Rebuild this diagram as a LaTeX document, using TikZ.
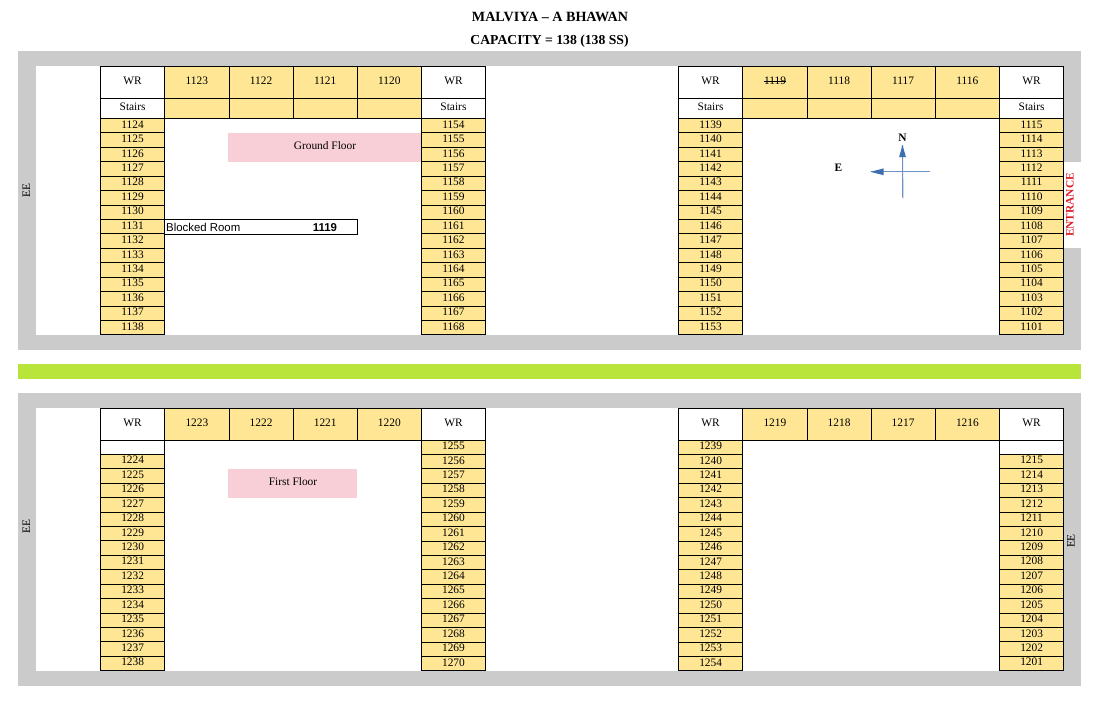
\documentclass[tikz,border=0pt]{standalone}
\usepackage{fontspec}
\usetikzlibrary{calc}
\setmainfont{Liberation Serif}
\newfontfamily\armfont{Liberation Sans}
\definecolor{roomyellow}{HTML}{FFE694}
\definecolor{framegray}{HTML}{CBCBCB}
\definecolor{limebar}{HTML}{B9E53B}
\definecolor{floorpink}{HTML}{F8CFD6}
\definecolor{compassblue}{HTML}{3F6FB0}
\definecolor{compassline}{HTML}{6D94C4}
\definecolor{entrancered}{HTML}{DD1F2A}
\tikzset{
  x=1pt,y=-1pt,
  cellbase/.style={draw=black,line width=1pt,inner sep=0pt,outer sep=0pt,anchor=north west,
    font=\fontsize{11.4}{11.4}\selectfont,text height=7pt,text depth=2.1pt,align=center},
  yellowroom/.style={cellbase,fill=roomyellow},
  whiteroom/.style={cellbase,fill=white},
  rowcell/.style={yellowroom,minimum width=64.3pt,minimum height=14.43pt},
  floorlabel/.style={fill=floorpink,inner sep=0pt,outer sep=0pt,anchor=north west,
    font=\fontsize{11.4}{11.4}\selectfont,minimum height=29pt},
  plainlabel/.style={inner sep=0pt,font=\fontsize{11.4}{11.4}\selectfont},
  titlelabel/.style={inner sep=0pt,font=\fontsize{13.8}{13.8}\selectfont\bfseries},
  compass/.style={compassline,line width=1.1pt},
  compasstip/.style={fill=compassblue,draw=none}
}
\begin{document}
\begin{tikzpicture}
\useasboundingbox (0,0) rectangle (1096,716);
\fill[white] (0,0) rectangle (1096,716);
\node[titlelabel,font=\fontsize{14.1}{14.1}\selectfont\bfseries] (title1) at (550,17) {MALVIYA – A BHAWAN};
\node[titlelabel,font=\fontsize{13.7}{13.7}\selectfont\bfseries] (title2) at (549.5,41) {CAPACITY = 138 (138 SS)};
% frames
\fill[framegray] (18,51) rectangle (1081,350);
\fill[white] (36,66) rectangle (1064,335);
\fill[white] (1064,162) rectangle (1081,248);
\fill[limebar] (18,364) rectangle (1081,379);
\fill[framegray] (18,393) rectangle (1081,686);
\fill[white] (36,408) rectangle (1064,671);
% pink labels
\node[floorlabel,minimum width=193pt] (gf) at (228,133) {\hspace*{0pt}};
\node[plainlabel] (gftext) at (325,145.6) {Ground Floor};
\node[floorlabel,minimum width=129pt] (ff) at (228,469) {\hspace*{0pt}};
\node[plainlabel] (fftext) at (293,481.6) {First Floor};
% ground floor top rows
\foreach \x/\t in {100.5/a,421.3/b,678.5/c,999.5/d}{
  \node[whiteroom,minimum width=64.3pt,minimum height=32pt] (gwr\t) at (\x,66) {WR};
  \node[whiteroom,minimum width=64.3pt,minimum height=20.5pt] (gst\t) at (\x,98) {Stairs};
}
\foreach \x/\n in {164.8/1123,229/1122,293.1/1121,357.2/1120,742.8/1119,807/1118,871/1117,935.3/1116}{
  \node[yellowroom,minimum width=64.2pt,minimum height=32pt] (r\n) at (\x,66) {\ifnum\n=1119\relax\else\n\fi};
  \node[yellowroom,minimum width=64.2pt,minimum height=20.5pt] (s\n) at (\x,98) {};
}
\node[plainlabel] (t1119) at (775,81) {1119};
\draw[line width=0.7pt] ($(t1119.west)+(0,0.3)$) -- ($(t1119.east)+(0,0.3)$);
% ground floor columns
\foreach \x/\s/\d in {100.5/1124/1,421.3/1154/1,678.5/1139/1,999.5/1115/-1}{
  \foreach \i in {0,...,14}{
    \pgfmathtruncatemacro\n{\s+\d*\i}
    \node[rowcell] (r\n) at (\x,{118.5+\i*14.43}) {\n};
  }
}
% first floor top rows
\foreach \x/\t in {100.5/a,421.3/b,678.5/c,999.5/d}{
  \node[whiteroom,minimum width=64.3pt,minimum height=32pt] (fwr\t) at (\x,408) {WR};
}
\foreach \x/\n in {164.8/1223,229/1222,293.1/1221,357.2/1220,742.8/1219,807/1218,871/1217,935.3/1216}{
  \node[yellowroom,minimum width=64.2pt,minimum height=32pt] (r\n) at (\x,408) {\n};
}
\node[whiteroom,minimum width=64.3pt,minimum height=14.4pt] (fblanka) at (100.5,440) {};
\node[whiteroom,minimum width=64.3pt,minimum height=14.4pt] (fblankd) at (999.5,440) {};
% first floor columns
\foreach \x/\s/\d/\c/\y in {100.5/1224/1/14/454.3,421.3/1255/1/15/440,678.5/1239/1/15/440,999.5/1215/-1/14/454.3}{
  \foreach \i in {0,...,\c}{
    \pgfmathtruncatemacro\n{\s+\d*\i}
    \node[rowcell] (r\n) at (\x,{\y+\i*14.43}) {\n};
  }
}
% blocked room
\node[whiteroom,minimum width=192.5pt,minimum height=14.6pt] (blocked) at (164.8,219.7) {};
\node[plainlabel,anchor=west,font=\armfont\fontsize{11.4}{11.4}\selectfont] (blockedtext) at (166,227.2) {Blocked Room};
\node[plainlabel,font=\armfont\fontsize{11.4}{11.4}\selectfont\bfseries] (blockedno) at (325,227.2) {1119};
% compass
\node[plainlabel,font=\fontsize{11.4}{11.4}\selectfont\bfseries] (north) at (902.5,138) {N};
\node[plainlabel,font=\fontsize{11.4}{11.4}\selectfont\bfseries] (east) at (838.5,167.5) {E};
\coordinate (ns) at (902.8,198);
\coordinate (nt) at (902.5,145);
\coordinate (ew) at (929.5,171.8);
\coordinate (et) at (870.5,171.8);
\draw[compass] (ns) -- (nt);
\draw[compass] (ew) -- (et);
\fill[compasstip] (nt) -- ($(nt)+(3.4,12)$) -- ($(nt)+(-3.4,12)$) -- cycle;
\fill[compasstip] (et) -- ($(et)+(13,3.4)$) -- ($(et)+(13,-3.4)$) -- cycle;
% side labels
\node[plainlabel,rotate=90,text=entrancered,font=\fontsize{11.4}{11.4}\selectfont\bfseries] (entrance) at (1070,205) {ENTRANCE};
\node[plainlabel,rotate=90] (ee1) at (26.5,190.5) {EE};
\node[plainlabel,rotate=90] (ee2) at (26.5,526.5) {EE};
\node[plainlabel,rotate=90] (ee3) at (1071,541) {EE};
\end{tikzpicture}
\end{document}
